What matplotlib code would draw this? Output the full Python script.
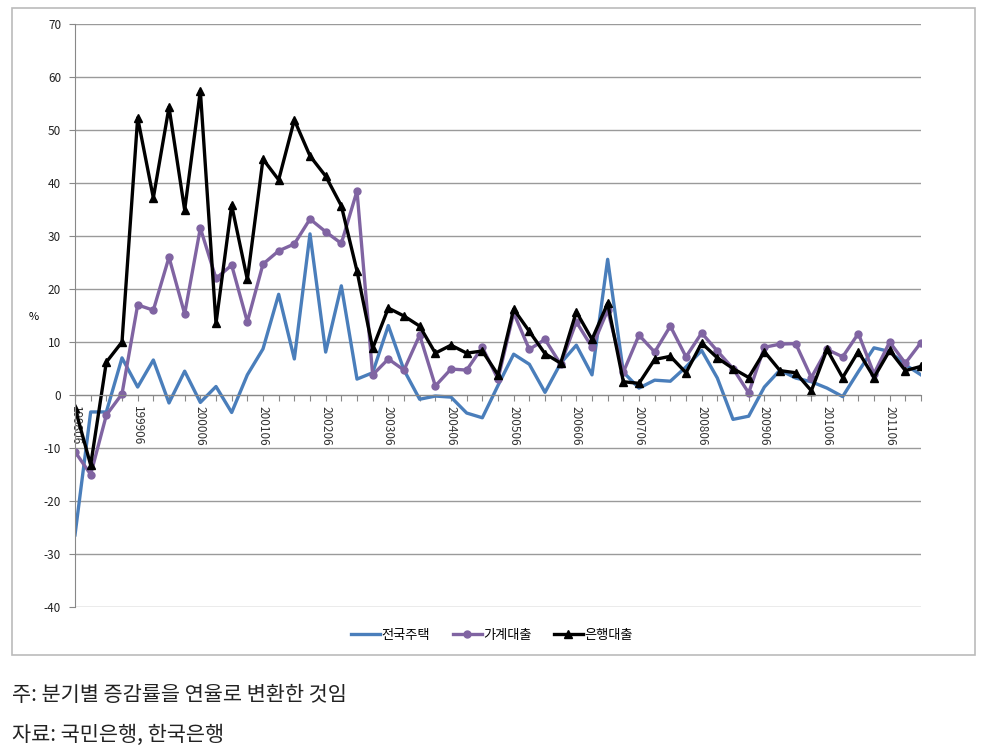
import matplotlib
matplotlib.use("Agg")
import matplotlib.pyplot as plt
from matplotlib.patches import Rectangle

plt.rcParams['font.family'] = ['Noto Sans CJK KR', 'DejaVu Sans']
plt.rcParams['axes.unicode_minus'] = False

# quarterly periods 199806 ~ 201112
periods = [f"{y}{m:02d}" for y in range(1998, 2012) for m in (3, 6, 9, 12)][1:]
tick_labels = [p if p.endswith("06") else "" for p in periods]

# 전국주택 (housing price)
housing = [-26.4, -3.2, -3.2, 7.0, 1.5, 6.6, -1.5, 4.5, -1.4, 1.6,
           -3.3, 3.8, 8.7, 19.0, 6.8, 30.4, 8.1, 20.6, 3.0, 4.2,
           13.1, 4.7, -0.8, -0.2, -0.4, -3.4, -4.3, 1.8, 7.7, 5.8,
           0.5, 6.0, 9.4, 3.8, 25.6, 4.3, 1.3, 2.8, 2.6, 5.3,
           8.4, 3.2, -4.6, -4.0, 1.5, 4.7, 3.2, 2.5, 1.3, -0.3,
           4.4, 8.9, 8.2, 5.7, 3.8]

# 가계대출 (household loans)
household = [-10.7, -15.0, -3.8, 0.2, 17.0, 16.0, 26.0, 15.3, 31.5, 22.0,
             24.5, 13.8, 24.7, 27.2, 28.5, 33.2, 30.8, 28.6, 38.5, 3.8,
             6.8, 4.7, 11.3, 1.7, 4.9, 4.7, 9.0, 3.0, 15.5, 8.6,
             10.5, 5.8, 13.8, 9.0, 16.0, 4.3, 11.3, 8.1, 13.0, 7.2,
             11.7, 8.3, 5.0, 0.4, 9.0, 9.6, 9.7, 3.3, 8.6, 7.2,
             11.6, 4.0, 10.0, 6.0, 9.9]

# 은행대출 (bank loans)
bank = [-2.5, -13.2, 6.2, 10.0, 52.3, 37.2, 54.3, 34.9, 57.4, 13.5,
        35.8, 21.8, 44.5, 40.6, 51.9, 45.1, 41.3, 35.7, 23.4, 8.8,
        16.4, 14.9, 13.0, 7.9, 9.4, 7.9, 8.3, 3.8, 16.2, 12.0,
        7.8, 6.0, 15.7, 10.5, 17.3, 2.5, 2.2, 6.7, 7.3, 4.2,
        9.8, 7.0, 5.0, 3.3, 8.2, 4.6, 4.2, 0.8, 8.6, 3.3,
        8.2, 3.3, 8.4, 4.6, 5.4]

x = range(len(periods))

fig = plt.figure(figsize=(9.89, 7.55), dpi=100)
ax = fig.add_axes([75 / 989, 1 - 607 / 755, (921 - 75) / 989, (607 - 24) / 755])

ax.plot(x, housing, color='#4a7ebb', lw=2.4, label='전국주택')
ax.plot(x, household, color='#8064a2', lw=2.4, marker='o', markersize=5, label='가계대출')
ax.plot(x, bank, color='black', lw=2.4, marker='^', markersize=6, label='은행대출')

# x axis crosses at 0 (set before ticks, it resets them)
ax.spines['bottom'].set_position(('data', 0))
ax.spines['bottom'].set_color('#888888')
ax.spines['left'].set_color('#888888')
ax.spines['top'].set_visible(False)
ax.spines['right'].set_visible(False)

ax.set_xlim(0, len(periods) - 1)
ax.set_ylim(-40, 70)
ax.set_yticks(range(-40, 71, 10))
ax.yaxis.grid(True, color='#9a9a9a', lw=1)
ax.set_axisbelow(True)
ax.tick_params(axis='y', direction='out', length=4, color='#888888', labelsize=8.5, pad=6,
               labelcolor='#222222')

ax.set_xticks(list(x))
ax.set_xticklabels(tick_labels, rotation=270, fontsize=8.5, color='#333333')
ax.tick_params(axis='x', direction='out', length=4, color='#888888', pad=4)

fig.text(34 / 989, 1 - 317 / 755, '%', fontsize=8, ha='center', va='center')

fig.legend(loc='center', bbox_to_anchor=(492 / 989, 1 - 635 / 755), ncol=3, frameon=False,
           fontsize=9.5, handlelength=2.2, handletextpad=0.1, columnspacing=1.7)

# outer chart border
fig.patches.append(Rectangle((12 / 989, 1 - 655 / 755), (975 - 12) / 989, (655 - 8) / 755,
                             transform=fig.transFigure, fill=False, ec='#bbbbbb', lw=1.2))

fig.text(12 / 989, 1 - 695 / 755, '주: 분기별 증감률을 연율로 변환한 것임', fontsize=15, va='center',
         color='#222222')
fig.text(12 / 989, 1 - 735 / 755, '자료: 국민은행, 한국은행', fontsize=15, va='center',
         color='#222222')

fig.savefig('out.png', dpi=100)
